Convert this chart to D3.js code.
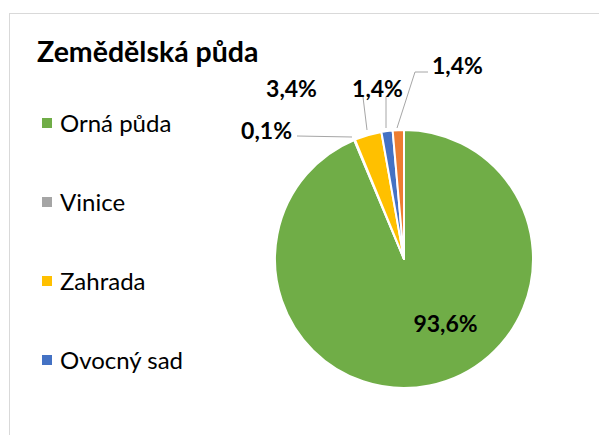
<!DOCTYPE html>
<html>
<head>
<meta charset="utf-8">
<script src="https://cdn.jsdelivr.net/npm/d3@7"></script>
<style>
  body { margin: 0; background: #fff; }
  svg { display: block; font-family: Lato, "Open Sans", sans-serif; }
</style>
</head>
<body>
<div id="chart"></div>
<script>
// chart data
const categories = ["Orná půda", "Vinice", "Zahrada", "Ovocný sad", "Trvalý travní porost"];
const shares = [93.6, 0.1, 3.4, 1.4, 1.4];
const colors = ["#70ad47", "#a5a5a5", "#ffc000", "#4472c4", "#ed7d31"];
const legendShown = 4;

const width = 599;
const height = 435;

const svg = d3.select("#chart").append("svg")
  .attr("width", width)
  .attr("height", height);

// chart frame (continues past right and bottom edges)
svg.append("rect")
  .attr("x", 9.5)
  .attr("y", 13.5)
  .attr("width", 620)
  .attr("height", 460)
  .attr("fill", "#fff")
  .attr("stroke", "#d9d9d9")
  .attr("stroke-width", 1);

svg.append("text")
  .attr("x", 37)
  .attr("y", 62)
  .attr("font-size", "28.5px")
  .attr("font-weight", "bold")
  .attr("fill", "#000")
  .text("Zemědělská půda");

// legend
const legendY = d3.scalePoint()
  .domain(categories.slice(0, legendShown))
  .range([123, 360]);

const legend = svg.selectAll(".legend-item")
  .data(categories.slice(0, legendShown))
  .enter()
  .append("g")
  .attr("class", "legend-item")
  .attr("transform", d => `translate(42, ${legendY(d)})`);

legend.append("rect")
  .attr("x", 0)
  .attr("y", -5)
  .attr("width", 10)
  .attr("height", 10)
  .attr("fill", (d, i) => colors[i]);

legend.append("text")
  .attr("x", 18)
  .attr("y", 9)
  .attr("font-size", "24px")
  .attr("fill", "#000")
  .text(d => d);

// pie
const cx = 404, cy = 259, radius = 129;
const pie = d3.pie().sort(null).value(d => d);
const arc = d3.arc().innerRadius(0).outerRadius(radius);
const arcs = pie(shares);

const g = svg.append("g").attr("transform", `translate(${cx}, ${cy})`);

g.selectAll(".slice")
  .data(arcs)
  .enter()
  .append("path")
  .attr("class", "slice")
  .attr("d", arc)
  .attr("fill", (d, i) => colors[i])
  .attr("stroke", "#fff")
  .attr("stroke-width", 2)
  .attr("stroke-linejoin", "round");

// label placement (layout only), relative to pie centre
const labelPos = [
  { x: 41.5, y: 64, anchor: "middle" },
  { x: -112, y: -129, anchor: "end" },
  { x: -112.5, y: -171, anchor: "middle" },
  { x: -26.5, y: -171, anchor: "middle" },
  { x: 28, y: -194, anchor: "start" }
];
// leader line elbows, null when no line
const leaderPts = [
  null,
  [[-107, -123], [-52, -122]],
  [[-41, -162], [-37, -129]],
  [[-18, -162], [-18, -131]],
  [[24, -187], [11, -187], [-7, -131]]
];

const fmt = v => d3.format(".1f")(v).replace(".", ",") + "%";

arcs.forEach((a, i) => {
  const pts = leaderPts[i];
  if (pts) {
    g.append("path")
      .attr("d", d3.line()(pts))
      .attr("fill", "none")
      .attr("stroke", "#a6a6a6")
      .attr("stroke-width", 1);
  }
  const p = labelPos[i];
  g.append("text")
    .attr("x", p.x)
    .attr("y", p.y)
    .attr("text-anchor", p.anchor)
    .attr("dominant-baseline", "central")
    .attr("font-size", "23px")
    .attr("font-weight", "bold")
    .attr("fill", "#000")
    .text(fmt(a.data));
});
</script>
</body>
</html>
